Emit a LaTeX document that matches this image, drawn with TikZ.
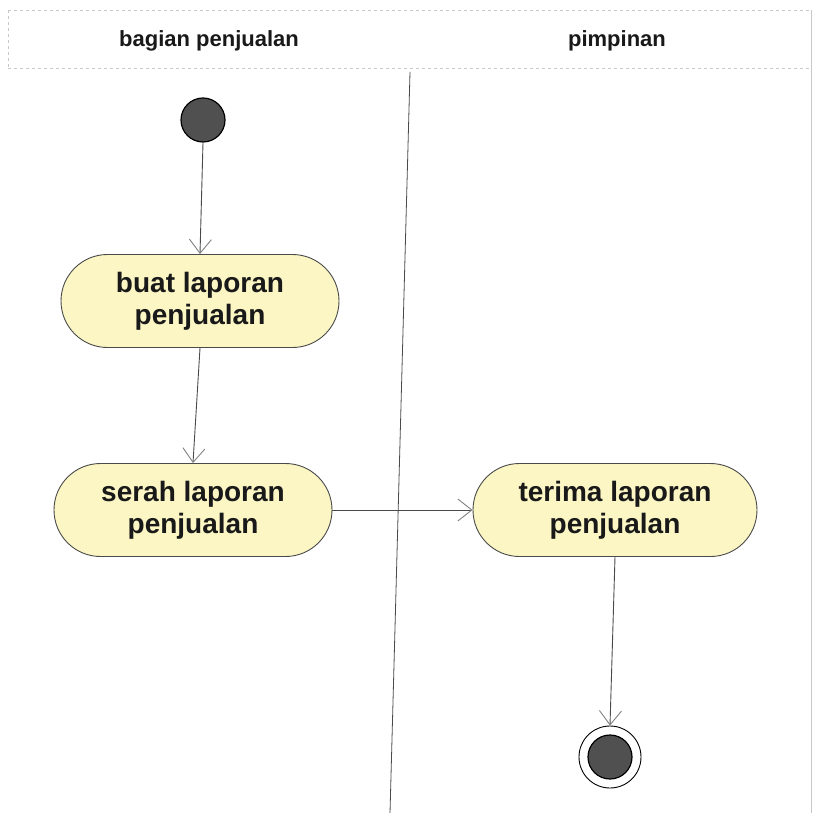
\documentclass[tikz,border=0pt]{standalone}
\usepackage{fontspec}
\setmainfont{Liberation Sans}
\usetikzlibrary{arrows.meta,shapes.misc}
\definecolor{actfill}{HTML}{FBF6C4}
\definecolor{linegrey}{HTML}{4A4A4A}
\definecolor{frameg}{HTML}{C8C8C8}
\definecolor{dotfill}{HTML}{505050}
\tikzset{
  act/.style={rounded rectangle, draw=linegrey, line width=0.9pt, fill=actfill,
    minimum width=278pt, minimum height=93pt, align=center, inner sep=0pt,
    font=\bfseries\fontsize{28}{32}\selectfont, text=black!90},
  flow/.style={draw=linegrey, line width=0.9pt,
    -{Straight Barb[length=14pt,width=22pt,line width=0.9pt,color=gray]}},
  lanehead/.style={font=\bfseries\fontsize{22}{24}\selectfont, text=black!90},
  startdot/.style={circle, fill=dotfill, draw=black, line width=1.2pt, minimum size=44pt, inner sep=0pt},
}
\begin{document}
\begin{tikzpicture}[x=1pt,y=-1pt]
\useasboundingbox (0,0) rectangle (816,813);
% header band
\draw[frameg, dashed, line width=0.6pt] (8,10) -- (812,10);
\draw[frameg, dashed, line width=0.6pt] (8,68) -- (812,68);
\draw[frameg, dashed, line width=0.6pt] (8,10) -- (8,68);
\draw[frameg, line width=0.5pt] (811,10) -- (811,813);
\node[lanehead] (lane1) at (209,41) {bagian penjualan};
\node[lanehead] (lane2) at (617,41) {pimpinan};
% lane divider
\coordinate (divtop) at (410,72);
\coordinate (divbot) at (390,813);
\draw[linegrey, line width=0.8pt] (divtop) -- (divbot);
% nodes
\node[startdot] (start) at (203,120) {};
\node[act] (buat) at (200,301) {buat laporan\\penjualan};
\node[act] (serah) at (193,510) {serah laporan\\penjualan};
\node[act, minimum width=284pt] (terima) at (615,510) {terima laporan\\penjualan};
\node[circle, draw=black, line width=0.9pt, fill=white, minimum size=62pt, inner sep=0pt] (end) at (610,757) {};
\node[circle, fill=dotfill, draw=black, line width=1.2pt, minimum size=44pt, inner sep=0pt] (endin) at (end) {};
% flows
\draw[flow] (start.south) -- (buat.north);
\draw[flow] (buat.south) -- (serah.north);
\draw[flow] (serah.east) -- (terima.west);
\draw[flow] (terima.south) -- (end.north);
\end{tikzpicture}
\end{document}
